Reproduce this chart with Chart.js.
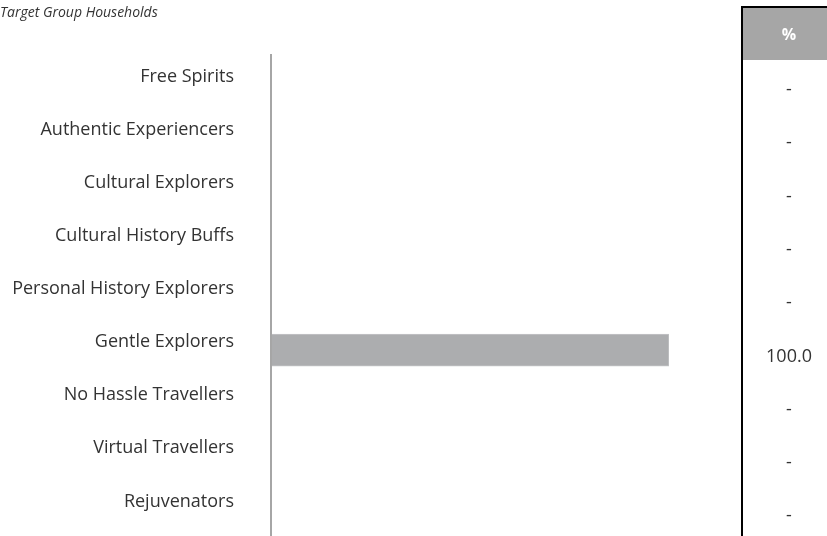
<!DOCTYPE html>
<html><head><meta charset="utf-8">
<script src="https://cdn.jsdelivr.net/npm/chart.js@4.4.1/dist/chart.umd.min.js"></script>
<style>html,body{margin:0;padding:0;background:#fff;}#wrap{width:827px;height:536px;position:relative;}</style>
</head><body><div id="wrap"><canvas id="c" width="827" height="536"></canvas></div>
<script>
const chartTitle = "Target Group Households";
const categories = ["Free Spirits","Authentic Experiencers","Cultural Explorers","Cultural History Buffs","Personal History Explorers","Gentle Explorers","No Hassle Travellers","Virtual Travellers","Rejuvenators"];
const percentValues = [0,0,0,0,0,100.0,0,0,0];
const tableHeader = "%";

const FONT = "'Open Sans', 'Noto Sans', sans-serif";

const overlay = {
  id: 'overlay',
  afterDraw(chart) {
    const ctx = chart.ctx;
    const ys = chart.scales.y;
    ctx.save();
    // title
    ctx.font = "italic 14px " + FONT;
    ctx.fillStyle = "#333";
    ctx.textBaseline = "middle";
    ctx.textAlign = "left";
    ctx.fillText(chartTitle, 0, 13);
    // axis line
    ctx.strokeStyle = "#a6a6a6";
    ctx.lineWidth = 2;
    ctx.beginPath();
    ctx.moveTo(ys.right + 1, 54);
    ctx.lineTo(ys.right + 1, 536);
    ctx.stroke();
    // table
    const tx = 742, headTop = 8, headBot = 60;
    ctx.fillStyle = "#a6a6a6";
    ctx.fillRect(tx, headTop, 827 - tx, headBot - headTop);
    ctx.strokeStyle = "#000";
    ctx.lineWidth = 2;
    ctx.beginPath();
    ctx.moveTo(tx, 536);
    ctx.lineTo(tx, 7);
    ctx.lineTo(827, 7);
    ctx.stroke();
    ctx.fillStyle = "#fff";
    ctx.font = "bold 16px " + FONT;
    ctx.textAlign = "center";
    ctx.fillText(tableHeader, 789, 35);
    const rowH = 53.3, rowTop = 63.3;
    ctx.font = "18px " + FONT;
    ctx.fillStyle = "#333";
    percentValues.forEach((v, i) => {
      const y = rowTop + rowH * (i + 0.5);
      ctx.fillText(v ? v.toFixed(1) : "-", 789, y);
    });
    ctx.restore();
  }
};

new Chart(document.getElementById('c'), {
  type: 'bar',
  data: {
    labels: categories,
    datasets: [{
      data: percentValues,
      backgroundColor: '#acadaf',
      borderColor: '#c4c5c7',
      borderWidth: 1,
      barThickness: 32
    }]
  },
  plugins: [overlay],
  options: {
    indexAxis: 'y',
    responsive: false,
    animation: false,
    devicePixelRatio: 1,
    layout: { padding: { left: 0, right: 158, top: 58, bottom: 0 } },
    plugins: { legend: { display: false }, tooltip: { enabled: false } },
    scales: {
      x: { display: false, min: 0, max: 100 },
      y: {
        grid: { display: false, drawTicks: false },
        border: { display: false },
        ticks: { color: '#333', font: { family: FONT, size: 18 }, padding: 36, labelOffset: -8 },
        afterFit(scale) { scale.width = 270; scale.paddingTop = 0; scale.paddingBottom = 0; }
      }
    }
  }
});
</script></body></html>
